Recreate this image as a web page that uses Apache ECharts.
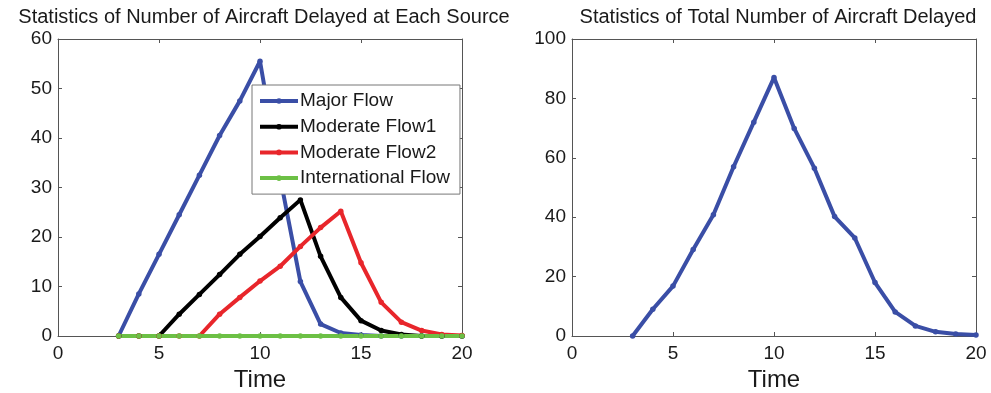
<!DOCTYPE html>
<html>
<head>
<meta charset="utf-8">
<script src="https://cdn.jsdelivr.net/npm/echarts@6/dist/echarts.min.js"></script>
<style>
  html, body { margin: 0; padding: 0; background: #fff; }
  #chart { width: 991px; height: 393px; }
</style>
</head>
<body>
<div id="chart"></div>
<script>
// Time steps shared by every series
const times = [3, 4, 5, 6, 7, 8, 9, 10, 11, 12, 13, 14, 15, 16, 17, 18, 19, 20];

// Delayed aircraft per source
const majorFlow     = [0, 8.5, 16.5, 24.5, 32.5, 40.5, 47.5, 55.5, 32, 11, 2.4, 0.6, 0.2, 0, 0, 0, 0, 0];
const moderateFlow1 = [0, 0, 0, 4.4, 8.4, 12.4, 16.5, 20.1, 23.9, 27.5, 16.1, 7.8, 3.1, 1.1, 0.3, 0, 0, 0];
const moderateFlow2 = [0, 0, 0, 0, 0, 4.4, 7.8, 11.1, 14.1, 18.1, 21.9, 25.2, 14.8, 6.8, 2.8, 1.1, 0.3, 0.1];
const internationalFlow = [0, 0, 0, 0, 0, 0, 0, 0, 0, 0, 0, 0, 0, 0, 0, 0, 0, 0];

// Total delayed aircraft
const totalDelayed = [0, 9, 16.8, 29.1, 40.8, 57, 72, 87, 69.9, 56.5, 40.2, 33, 18, 8.1, 3.4, 1.4, 0.7, 0.3];

// Axis ranges and ticks
const xTicks = { min: 0, max: 20, interval: 5 };
const leftY = { min: 0, max: 60, interval: 10 };
const rightY = { min: 0, max: 100, interval: 20 };

const FONT = 'Liberation Sans, Arial, Helvetica, sans-serif';
const TEXT = '#1a1a1a';
const BOX = '#555';
const TICK_FONT = 19;

const pairs = (vals) => times.map((t, i) => [t, vals[i]]);

function xAxisPair(gridIndex) {
  const base = {
    type: 'value', gridIndex, min: xTicks.min, max: xTicks.max, interval: xTicks.interval,
    splitLine: { show: false },
    axisLine: { show: true, onZero: false, lineStyle: { color: BOX, width: 1 } },
    axisTick: { show: true, inside: true, length: 4, lineStyle: { color: BOX } }
  };
  return [
    Object.assign({}, base, {
      position: 'bottom',
      name: 'Time', nameLocation: 'middle', nameGap: 26,
      nameTextStyle: { fontFamily: FONT, fontSize: 24, color: TEXT },
      axisLabel: { fontFamily: FONT, fontSize: TICK_FONT, color: TEXT, margin: 8 }
    }),
    Object.assign({}, base, { position: 'top', axisLabel: { show: false } })
  ];
}

function yAxisPair(gridIndex, range) {
  const base = {
    type: 'value', gridIndex, min: range.min, max: range.max, interval: range.interval,
    splitLine: { show: false },
    axisLine: { show: true, onZero: false, lineStyle: { color: BOX, width: 1 } },
    axisTick: { show: true, inside: true, length: 4, lineStyle: { color: BOX } }
  };
  return [
    Object.assign({}, base, {
      position: 'left',
      axisLabel: { fontFamily: FONT, fontSize: TICK_FONT, color: TEXT, margin: 6 }
    }),
    Object.assign({}, base, { position: 'right', axisLabel: { show: false } })
  ];
}

function lineSeries(name, vals, color, xIdx, yIdx) {
  return {
    name, type: 'line', xAxisIndex: xIdx, yAxisIndex: yIdx,
    data: pairs(vals),
    symbol: 'circle', symbolSize: 5.5, showSymbol: true,
    clip: false,
    lineStyle: { color, width: 4 },
    itemStyle: { color },
    emphasis: { disabled: true },
    animation: false
  };
}

const chart = echarts.init(document.getElementById('chart'), null, { renderer: 'canvas' });

chart.setOption({
  backgroundColor: '#fff',
  animation: false,
  title: [
    { text: 'Statistics of Number of Aircraft Delayed at Each Source', left: 259, top: 2, textAlign: 'center',
      textStyle: { fontFamily: FONT, fontSize: 20, fontWeight: 'normal', color: TEXT } },
    { text: 'Statistics of Total Number of Aircraft Delayed', left: 773, top: 2, textAlign: 'center',
      textStyle: { fontFamily: FONT, fontSize: 20, fontWeight: 'normal', color: TEXT } }
  ],
  grid: [
    { left: 58, top: 39, width: 404, height: 297, show: false, containLabel: false, outerBoundsMode: 'none' },
    { left: 572, top: 39, width: 404, height: 297, show: false, containLabel: false, outerBoundsMode: 'none' }
  ],
  xAxis: [...xAxisPair(0), ...xAxisPair(1)],
  yAxis: [...yAxisPair(0, leftY), ...yAxisPair(1, rightY)],
  legend: {
    data: ['Major Flow', 'Moderate Flow1', 'Moderate Flow2', 'International Flow'],
    orient: 'vertical',
    left: 252, top: 85,
    padding: [6, 10, 6, 6],
    itemWidth: 38, itemHeight: 7, itemGap: 5.7,
    backgroundColor: '#fff',
    borderColor: '#777', borderWidth: 1,
    lineStyle: { width: 4 },
    textStyle: { fontFamily: FONT, fontSize: 19, lineHeight: 20, color: TEXT, padding: [0, 0, 0, -3] },
    selectedMode: false,
    z: 10
  },
  series: [
    lineSeries('Major Flow', majorFlow, '#3a4ea6', 0, 0),
    lineSeries('Moderate Flow1', moderateFlow1, '#000000', 0, 0),
    lineSeries('Moderate Flow2', moderateFlow2, '#e8262b', 0, 0),
    lineSeries('International Flow', internationalFlow, '#6cc045', 0, 0),
    lineSeries('Total', totalDelayed, '#3a4ea6', 2, 2)
  ]
});
</script>
</body>
</html>
